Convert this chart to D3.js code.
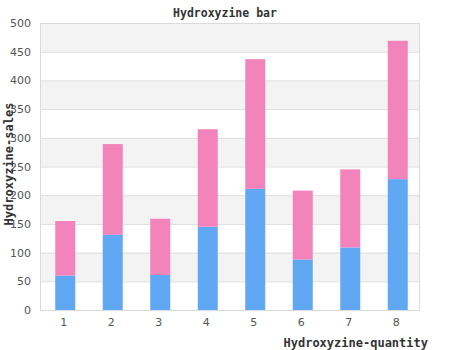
<!DOCTYPE html>
<html><head><meta charset="utf-8">
<script src="https://cdn.jsdelivr.net/npm/d3@7"></script>
<style>body{margin:0;background:#fff}</style>
</head><body>
<svg id="c" width="450" height="350"></svg>
<script>
const categories = ["1","2","3","4","5","6","7","8"];
const seriesBlue = [60, 131, 61, 145, 211, 88, 109, 228];
const seriesPink = [95, 158, 98, 170, 226, 120, 136, 241];
const yTicks = [0,50,100,150,200,250,300,350,400,450,500];
const title = "Hydroxyzine bar";
const xTitle = "Hydroxyzine-quantity";
const yTitle = "Hydroxyzine-sales";

const svg = d3.select("#c");
const L = 40, R = 420, T = 23, B = 310;
const x = d3.scaleBand().domain(categories).range([L, R]);
const y = d3.scaleLinear().domain([0, 500]).range([B, T]);

// bands
const bands = d3.range(0, 500, 50);
svg.selectAll("rect.band").data(bands).enter().append("rect")
  .attr("x", L).attr("width", R - L)
  .attr("y", d => y(d + 50)).attr("height", d => y(d) - y(d + 50))
  .attr("fill", (d, i) => i % 2 ? "#f3f3f3" : "#fff");
// grid
svg.selectAll("line.grid").data(yTicks).enter().append("line")
  .attr("x1", L).attr("x2", R).attr("y1", d => y(d) + 0.5).attr("y2", d => y(d) + 0.5)
  .attr("stroke", "#dedede");

// bars
const bw = 20, off = 1.5;
const g = svg.append("g");
categories.forEach((c, i) => {
  const cx = x(c) + x.bandwidth() / 2 + off;
  g.append("rect").attr("x", cx - bw / 2).attr("width", bw)
    .attr("y", y(seriesBlue[i])).attr("height", y(0) - y(seriesBlue[i]))
    .attr("fill", "#60a8f3");
  const tot = seriesBlue[i] + seriesPink[i];
  g.append("rect").attr("x", cx - bw / 2).attr("width", bw)
    .attr("y", y(tot)).attr("height", y(seriesBlue[i]) - y(tot))
    .attr("fill", "#f283bb");
});

// border
svg.append("rect").attr("x", L + 0.5).attr("y", T + 0.5).attr("width", R - L - 1).attr("height", B - T)
  .attr("fill", "none").attr("stroke", "#dadada");

// y axis labels
const ya = svg.append("g").attr("transform", `translate(${L},0)`)
  .call(d3.axisLeft(y).tickValues(yTicks).tickSize(0).tickPadding(9));
ya.select(".domain").remove();
ya.selectAll("text").attr("font-family", "DejaVu Sans").attr("font-size", 11).attr("fill", "#555");

// x axis labels
const xa = svg.append("g").attr("transform", `translate(0,${B})`)
  .call(d3.axisBottom(x).tickSize(0).tickPadding(8));
xa.select(".domain").remove();
xa.selectAll("text").attr("font-family", "DejaVu Sans").attr("font-size", 11).attr("fill", "#555");

// titles
svg.append("text").attr("x", 225).attr("y", 17).attr("text-anchor", "middle")
  .attr("font-family", "DejaVu Sans Mono").attr("font-weight", "bold").attr("font-size", 11.5)
  .attr("fill", "#333").text(title);
svg.append("text").attr("x", 428).attr("y", 347).attr("text-anchor", "end")
  .attr("font-family", "DejaVu Sans Mono").attr("font-weight", "bold").attr("font-size", 12)
  .attr("fill", "#333").text(xTitle);
svg.append("text").attr("transform", "translate(13,164) rotate(-90)").attr("text-anchor", "middle")
  .attr("font-family", "DejaVu Sans Mono").attr("font-weight", "bold").attr("font-size", 12)
  .attr("fill", "#333").text(yTitle);
</script>
</body></html>
